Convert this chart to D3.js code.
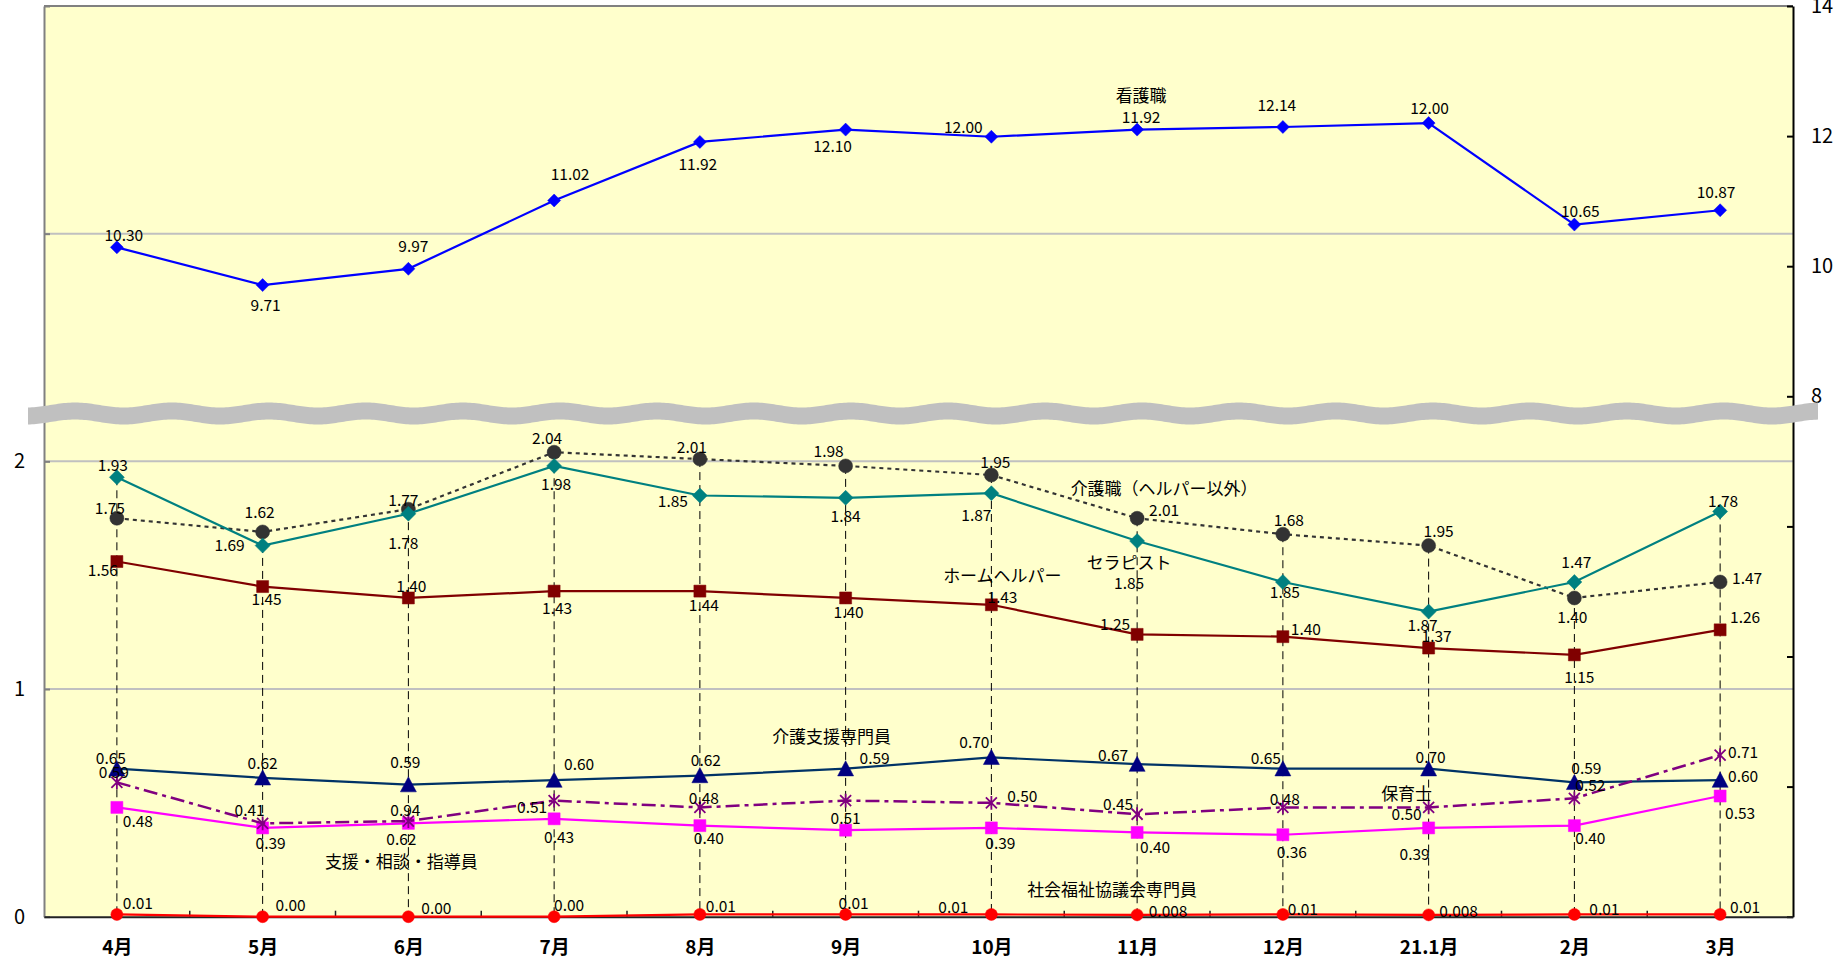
<!DOCTYPE html>
<html>
<head>
<meta charset="utf-8">
<script src="https://cdn.jsdelivr.net/npm/d3@7.9.0/dist/d3.min.js"></script>
<style>
  body { margin: 0; background: #fff; }
  svg { display: block; }
  text { font-family: "Noto Sans CJK JP", "Noto Sans", sans-serif; fill: #000; }
</style>
</head>
<body>
<svg id="chart" width="1847" height="965"></svg>
<script>
// ===== data =====
const months = ["4月", "5月", "6月", "7月", "8月", "9月", "10月", "11月", "12月", "21.1月", "2月", "3月"];

// 看護職 (right axis)
const nursing = [10.29, 9.71, 9.96, 11.01, 11.91, 12.10, 11.99, 12.10, 12.14, 12.20, 10.64, 10.86];
const nursingLbl = ["10.30", "9.71", "9.97", "11.02", "11.92", "12.10", "12.00", "11.92", "12.14", "12.00", "10.65", "10.87"];

// 介護職（ヘルパー以外）
const careWorker = [1.75, 1.69, 1.79, 2.04, 2.01, 1.98, 1.94, 1.75, 1.68, 1.63, 1.40, 1.47];
const careWorkerLbl = ["1.75", "1.62", "1.77", "2.04", "2.01", "1.98", "1.95", "2.01", "1.68", "1.95", "1.40", "1.47"];

// セラピスト
const therapist = [1.93, 1.63, 1.77, 1.98, 1.85, 1.84, 1.86, 1.65, 1.47, 1.34, 1.47, 1.78];
const therapistLbl = ["1.93", "1.69", "1.78", "1.98", "1.85", "1.84", "1.87", "1.85", "1.85", "1.87", "1.47", "1.78"];

// ホームヘルパー
const homeHelper = [1.56, 1.45, 1.40, 1.43, 1.43, 1.40, 1.37, 1.24, 1.23, 1.18, 1.15, 1.26];
const homeHelperLbl = ["1.56", "1.45", "1.40", "1.43", "1.44", "1.40", "1.43", "1.25", "1.40", "1.37", "1.15", "1.26"];

// 介護支援専門員
const careManager = [0.65, 0.61, 0.58, 0.60, 0.62, 0.65, 0.70, 0.67, 0.65, 0.65, 0.59, 0.60];
const careManagerLbl = ["0.65", "0.62", "0.59", "0.60", "0.62", "0.59", "0.70", "0.67", "0.65", "0.70", "0.59", "0.60"];

// 支援・相談・指導員
const support = [0.48, 0.39, 0.41, 0.43, 0.40, 0.38, 0.39, 0.37, 0.36, 0.39, 0.40, 0.53];
const supportLbl = ["0.48", "0.39", "0.62", "0.43", "0.40", null, "0.39", "0.40", "0.36", "0.39", "0.40", "0.53"];

// 保育士
const nursery = [0.59, 0.41, 0.42, 0.51, 0.48, 0.51, 0.50, 0.45, 0.48, 0.48, 0.52, 0.71];
const nurseryLbl = ["0.59", "0.41", "0.94", "0.51", "0.48", "0.51", "0.50", "0.45", "0.48", "0.50", "0.52", "0.71"];

// 社会福祉協議会専門員
const welfare = [0.01, 0.00, 0.00, 0.00, 0.01, 0.01, 0.01, 0.008, 0.01, 0.008, 0.01, 0.01];
const welfareLbl = ["0.01", "0.00", "0.00", "0.00", "0.01", "0.01", "0.01", "0.008", "0.01", "0.008", "0.01", "0.01"];

const leftTicks = [0, 1, 2, 3, 4];
const rightTicks = [0, 2, 4, 6, 8, 10, 12, 14];

// ===== label placement (px offsets from each point) =====
const nursingOff = [[7,-13],[3,19],[5,-24],[16,-27],[-2,21],[-13,15],[-28,-11],[4,-14],[-6,-23],[1,-16],[6,-15],[-4,-19]];
const careWorkerOff = [[-7,-11],[-3,-21],[-5,-10],[-7,-15],[-8,-13],[-17,-16],[4,-14],[27,-9],[6,-15],[10,-16],[-2,18],[27,-5]];
const therapistOff = [[-4,-13],[-33,-2],[-5,28],[2,17],[-27,4],[0,17],[-15,21],[-8,41],[2,9],[-6,12],[2,-21],[3,-11]];
const homeHelperOff = [[-14,7],[4,11],[3,-13],[3,16],[4,13],[3,13],[11,-9],[-22,-11],[23,-9],[8,-13],[5,21],[25,-14]];
const careManagerOff = [[-6,-12],[0,-16],[-3,-24],[25,-17],[6,-17],[29,-12],[-17,-16],[-24,-10],[-17,-12],[2,-13],[12,-15],[23,-5]];
const supportOff = [[21,13],[8,14],[-7,15],[5,17],[9,11],[0,0],[9,14],[18,14],[9,16],[-14,25],[16,11],[20,16]];
const nurseryOff = [[-3,-11],[-13,-14],[-3,-12],[-22,5],[4,-10],[0,16],[31,-8],[-19,-11],[2,-9],[-22,6],[16,-14],[23,-4]];
const welfareOff = [[21,-12],[28,-13],[28,-10],[15,-13],[21,-9],[8,-12],[-38,-8],[31,-5],[20,-6],[30,-5],[30,-6],[25,-8]];

// series table built from the arrays above
const series = [
  { name: "介護職（ヘルパー以外）", values: careWorker, labels: careWorkerLbl, off: careWorkerOff, axis: "L",
    color: "#333333", line: "#333333", dash: "4,4", shape: "circle", size: 7, nameAt: [7, 27, -31] },
  { name: "セラピスト", values: therapist, labels: therapistLbl, off: therapistOff, axis: "L",
    color: "#008080", line: "#008080", dash: null, shape: "diamond", size: 7.5, nameAt: [7, -8, 20] },
  { name: "ホームヘルパー", values: homeHelper, labels: homeHelperLbl, off: homeHelperOff, axis: "L",
    color: "#800000", line: "#800000", dash: null, shape: "square", size: 6, nameAt: [6, 11, -30] },
  { name: "介護支援専門員", values: careManager, labels: careManagerLbl, off: careManagerOff, axis: "L",
    color: "#000080", line: "#003366", dash: null, shape: "triangle", size: 8, nameAt: [5, -14, -33] },
  { name: "支援・相談・指導員", values: support, labels: supportLbl, off: supportOff, axis: "L",
    color: "#FF00FF", line: "#FF00FF", dash: null, shape: "square", size: 6, nameAt: [2, -7, 37] },
  { name: "保育士", values: nursery, labels: nurseryLbl, off: nurseryOff, axis: "L",
    color: "#800080", line: "#800080", dash: "14,5,4,5", shape: "star", size: 5.5, nameAt: [9, -22, -15] },
  { name: "社会福祉協議会専門員", values: welfare, labels: welfareLbl, off: welfareOff, axis: "L",
    color: "#FF0000", line: "#FF0000", dash: null, shape: "circle", size: 6, nameAt: [7, -25, -26] },
  { name: "看護職", values: nursing, labels: nursingLbl, off: nursingOff, axis: "R",
    color: "#0000FF", line: "#0000FF", dash: null, shape: "diamond", size: 6.5, nameAt: [7, 4, -35] }
];

// ===== layout =====
const plot = { left: 44, right: 1793, top: 6, bottom: 916.7 };
const svg = d3.select("#chart");

const x = d3.scalePoint().domain(months).range([plot.left, plot.right]).padding(0.5);
const yL = d3.scaleLinear().domain([0, 4]).range([plot.bottom, plot.top]);
const yR = d3.scaleLinear().domain([0, 14]).range([plot.bottom, plot.top]);

// plot background
svg.append("rect")
  .attr("x", plot.left).attr("y", plot.top)
  .attr("width", plot.right - plot.left).attr("height", plot.bottom - plot.top)
  .attr("fill", "#FFFFCC");

// gridlines (left axis major unit)
svg.append("g").selectAll("line")
  .data([1, 2, 3])
  .join("line")
  .attr("x1", plot.left).attr("x2", plot.right)
  .attr("y1", d => yL(d)).attr("y2", d => yL(d))
  .attr("stroke", "#C0C0C0").attr("stroke-width", 2);

// top border
svg.append("line")
  .attr("x1", plot.left).attr("x2", plot.right)
  .attr("y1", plot.top).attr("y2", plot.top)
  .attr("stroke", "#808080").attr("stroke-width", 2);

// drop lines from highest primary value to the axis
const primary = series.filter(s => s.axis === "L");
svg.append("g").selectAll("line")
  .data(months)
  .join("line")
  .attr("x1", d => x(d)).attr("x2", d => x(d))
  .attr("y1", (d, i) => yL(d3.max(primary, s => s.values[i])))
  .attr("y2", yL(0))
  .attr("stroke", "#000").attr("stroke-width", 1)
  .attr("stroke-dasharray", "8,5");

// ===== axes =====
const axisL = svg.append("g")
  .attr("transform", `translate(${plot.left},0)`)
  .call(d3.axisLeft(yL).tickValues(leftTicks).tickSizeInner(-6).tickSizeOuter(0).tickPadding(19)
    .tickFormat(d => (d <= 2 ? d : "")));
axisL.select(".domain").attr("stroke", "#808080").attr("stroke-width", 2);
axisL.selectAll(".tick line").attr("stroke", "#808080").attr("stroke-width", 2);
axisL.selectAll("text").attr("font-size", 20).attr("font-family", "Noto Sans CJK JP");

const axisR = svg.append("g")
  .attr("transform", `translate(${plot.right},0)`)
  .call(d3.axisRight(yR).tickValues(rightTicks).tickSizeInner(-6).tickSizeOuter(0).tickPadding(18)
    .tickFormat(d => (d >= 8 ? d : "")));
axisR.select(".domain").attr("stroke", "#000").attr("stroke-width", 2);
axisR.selectAll(".tick line").attr("stroke", "#000").attr("stroke-width", 2);
axisR.selectAll("text").attr("font-size", 20).attr("font-family", "Noto Sans CJK JP");

const axisB = svg.append("g")
  .attr("transform", `translate(0,${plot.bottom})`)
  .call(d3.axisBottom(x).tickSize(0).tickPadding(0));
axisB.select(".domain").attr("stroke", "#222").attr("stroke-width", 2);
axisB.selectAll("text")
  .attr("y", 31).attr("dy", "0.35em")
  .attr("font-size", 19).attr("font-weight", "bold")
  .attr("font-family", "Noto Sans CJK JP");

// category boundary ticks (inward)
svg.append("g").selectAll("line")
  .data(d3.range(1, months.length))
  .join("line")
  .attr("x1", i => x(months[i]) - x.step() / 2).attr("x2", i => x(months[i]) - x.step() / 2)
  .attr("y1", plot.bottom).attr("y2", plot.bottom - 6)
  .attr("stroke", "#222").attr("stroke-width", 1.5);

// ===== series =====
const shapes = {
  diamond: s => `M0,${-s}L${s},0L0,${s}L${-s},0Z`,
  square: s => `M${-s},${-s}H${s}V${s}H${-s}Z`,
  triangle: s => `M0,${-s}L${s},${s * 0.9}L${-s},${s * 0.9}Z`,
  circle: s => d3.symbol(d3.symbolCircle, Math.PI * s * s)(),
  star: s => `M${-s},${-s}L${s},${s}M${-s},${s}L${s},${-s}M0,${-s * 1.25}V${s * 1.25}`
};

const yOf = s => (s.axis === "R" ? yR : yL);

series.forEach(s => {
  const y = yOf(s);
  const g = svg.append("g");
  const line = d3.line().x((d, i) => x(months[i])).y(d => y(d));
  g.append("path")
    .datum(s.values)
    .attr("d", line)
    .attr("fill", "none")
    .attr("stroke", s.line)
    .attr("stroke-width", s.shape === "star" ? 2.5 : 2.2)
    .attr("stroke-dasharray", s.dash);

  g.selectAll("path.mk")
    .data(s.values)
    .join("path")
    .attr("class", "mk")
    .attr("transform", (d, i) => `translate(${x(months[i])},${y(d)})`)
    .attr("d", shapes[s.shape](s.size))
    .attr("fill", s.shape === "star" ? "none" : s.color)
    .attr("stroke", s.color)
    .attr("stroke-width", s.shape === "star" ? 1.8 : 0.5);
});

// data labels
series.forEach(s => {
  const y = yOf(s);
  svg.append("g").selectAll("text")
    .data(s.values.map((v, i) => ({ v, i, t: s.labels[i], o: s.off[i] })).filter(d => d.t !== null))
    .join("text")
    .attr("x", d => x(months[d.i]) + d.o[0])
    .attr("y", d => y(d.v) + d.o[1])
    .attr("text-anchor", "middle")
    .attr("dominant-baseline", "central")
    .attr("font-size", 15.5)
    .text(d => d.t);
});

// series names
svg.append("g").selectAll("text")
  .data(series)
  .join("text")
  .attr("x", s => x(months[s.nameAt[0]]) + s.nameAt[1])
  .attr("y", s => yOf(s)(s.values[s.nameAt[0]]) + s.nameAt[2])
  .attr("text-anchor", "middle")
  .attr("dominant-baseline", "central")
  .attr("font-size", 17)
  .text(s => s.name);

// ===== axis break (wavy band) =====
const band = { x0: 28, x1: 1818, top: 405, thick: 17, amp: 2.5, period: 97, crest: 75 };
const wave = d3.range(band.x0, band.x1 + 1, 2).map(px => [px,
  band.top - band.amp * Math.cos(2 * Math.PI * (px - band.crest) / band.period)]);
const bandPath = d3.line()(wave) + "L" +
  wave.slice().reverse().map(p => `${p[0]},${p[1] + band.thick}`).join("L") + "Z";
svg.append("path")
  .attr("d", bandPath)
  .attr("fill", "#C0C0C0");
</script>
</body>
</html>
